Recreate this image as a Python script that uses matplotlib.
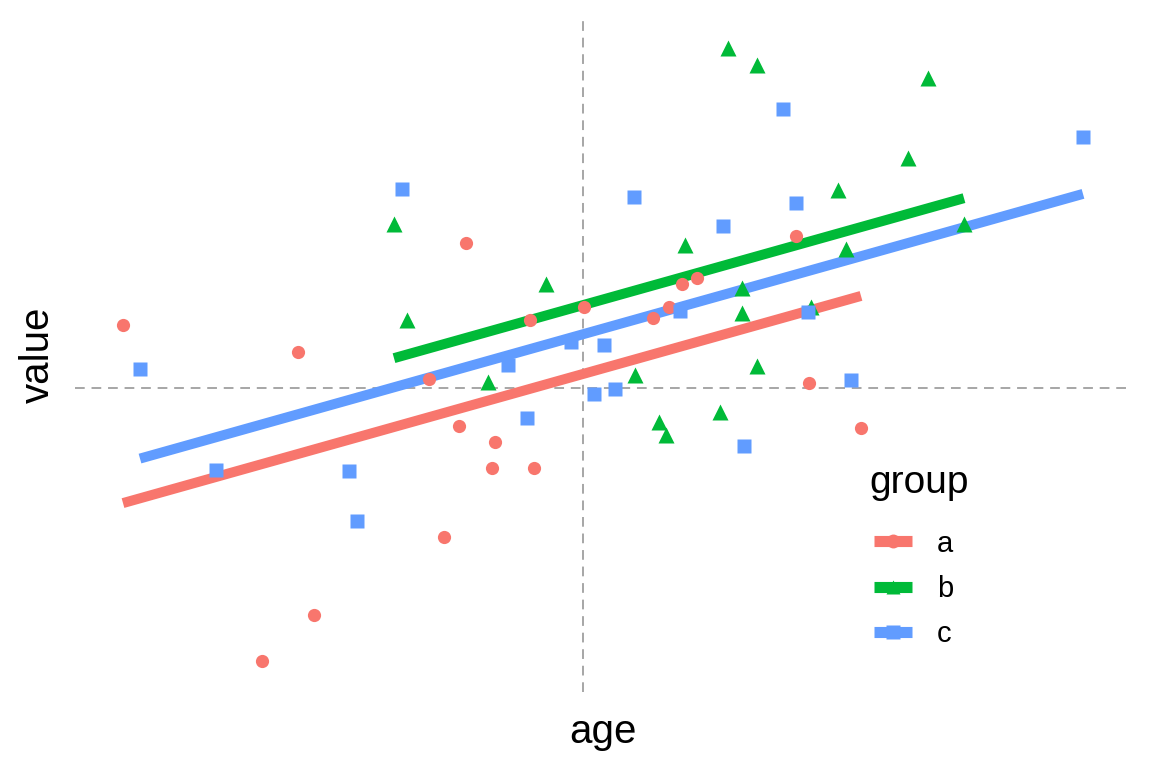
#!/usr/bin/env python3
import numpy as np
import matplotlib
matplotlib.use('Agg')
import matplotlib.pyplot as plt
from matplotlib.lines import Line2D

plt.rcParams['font.family'] = ['Liberation Sans', 'DejaVu Sans']

# group a (circles)
age_a = [-4.60, -2.85, -1.54, -1.17, -1.24, -0.88, -0.91, -0.49, -1.39, -2.69,
         -3.21, -0.53, 0.01, 0.70, 0.86, 0.99, 1.14, 2.13, 2.26, 2.78]
value_a = [0.63, 0.36, 0.09, 1.45, -0.38, -0.54, -0.80, -0.80, -1.49, -2.27,
           -2.73, 0.68, 0.81, 0.70, 0.81, 1.04, 1.10, 1.52, 0.05, -0.40]
# group b (triangles)
age_b = [-1.89, -1.76, -0.95, -0.37, 0.52, 0.76, 0.83, 1.02, 1.37, 1.45,
         1.59, 1.59, 1.74, 1.74, 2.28, 2.55, 2.63, 3.25, 3.45, 3.81]
value_b = [1.64, 0.68, 0.06, 1.04, 0.13, -0.34, -0.47, 1.43, -0.24, 3.40,
           1.00, 0.75, 3.23, 0.22, 0.81, 1.98, 1.39, 2.30, 3.10, 1.64]
# group c (squares)
age_c = [-4.43, -3.67, -2.34, -2.26, -1.81, -0.75, -0.56, -0.12, 0.11, 0.21,
         0.32, 0.51, 0.97, 1.40, 1.61, 2.00, 2.13, 2.25, 2.68, 5.00]
value_c = [0.19, -0.82, -0.83, -1.33, 1.99, 0.23, -0.30, 0.46, -0.06, 0.43,
           -0.01, 1.91, 0.77, 1.62, -0.58, 2.79, 1.85, 0.76, 0.08, 2.51]

groups = ['a', 'b', 'c']
colors = {'a': '#F8766D', 'b': '#00BA38', 'c': '#619CFF'}
markers = {'a': 'o', 'b': '^', 'c': 's'}
msizes = {'a': 9.5, 'b': 11.5, 'c': 9.5}
data = {'a': (age_a, value_a), 'b': (age_b, value_b), 'c': (age_c, value_c)}

fig = plt.figure(figsize=(11.52, 7.68), dpi=100)
ax = fig.add_axes([75 / 1152, 1 - 692 / 768, (1131 - 75) / 1152, (692 - 17) / 768])

# 参照線
ax.axhline(0, color='#A6A6A6', lw=1.4, ls=(0, (5, 3.5)), zorder=1)
ax.axvline(0, color='#A6A6A6', lw=1.4, ls=(0, (5, 3.5)), zorder=1)

# 平行回帰 (value ~ age + group)
sxy = 0.0
sxx = 0.0
for g in groups:
    x, y = np.array(data[g][0]), np.array(data[g][1])
    sxy += np.sum((x - x.mean()) * (y - y.mean()))
    sxx += np.sum((x - x.mean()) ** 2)
k = sxy / sxx
for g in groups:
    x, y = np.array(data[g][0]), np.array(data[g][1])
    b = y.mean() - k * x.mean()
    xs = np.array([x.min(), x.max()])
    ax.plot(xs, k * xs + b, color=colors[g], lw=7.2, solid_capstyle='butt', zorder=2)

# 散布点
for g in groups:
    x, y = data[g]
    ax.plot(x, y, ls='none', marker=markers[g], ms=msizes[g], color=colors[g],
            mec='none', zorder=3)

ax.set_xlim(min(age_a + age_b + age_c) - 0.48, max(age_a + age_b + age_c) + 0.48)
ymin = min(value_a + value_b + value_c)
ymax = max(value_a + value_b + value_c)
pad = (ymax - ymin) * 0.05
ax.set_ylim(ymin - pad, ymax + pad)
for s in ax.spines.values():
    s.set_visible(False)
ax.set_xticks([])
ax.set_yticks([])

fig.text(603 / 1152, 1 - 732 / 768, 'age', ha='center', va='center', fontsize=29)
fig.text(38 / 1152, 1 - 355 / 768, 'value', ha='center', va='center',
         fontsize=29, rotation=90)

# 凡例
fig.text(869 / 1152, 1 - 483 / 768, 'group', ha='left', va='center', fontsize=28)
handles = [Line2D([], [], color=colors[g], lw=8, solid_capstyle='butt',
                  marker=markers[g], ms=10, mec='none') for g in groups]
leg = ax.legend(handles, groups, loc='center left',
                bbox_to_anchor=(874 / 1152, 1 - 589 / 768),
                bbox_transform=fig.transFigure, frameon=False, fontsize=21,
                handlelength=1.3, handletextpad=0.85, labelspacing=0.6,
                borderpad=0, borderaxespad=0)

fig.savefig('out.png', dpi=100)
